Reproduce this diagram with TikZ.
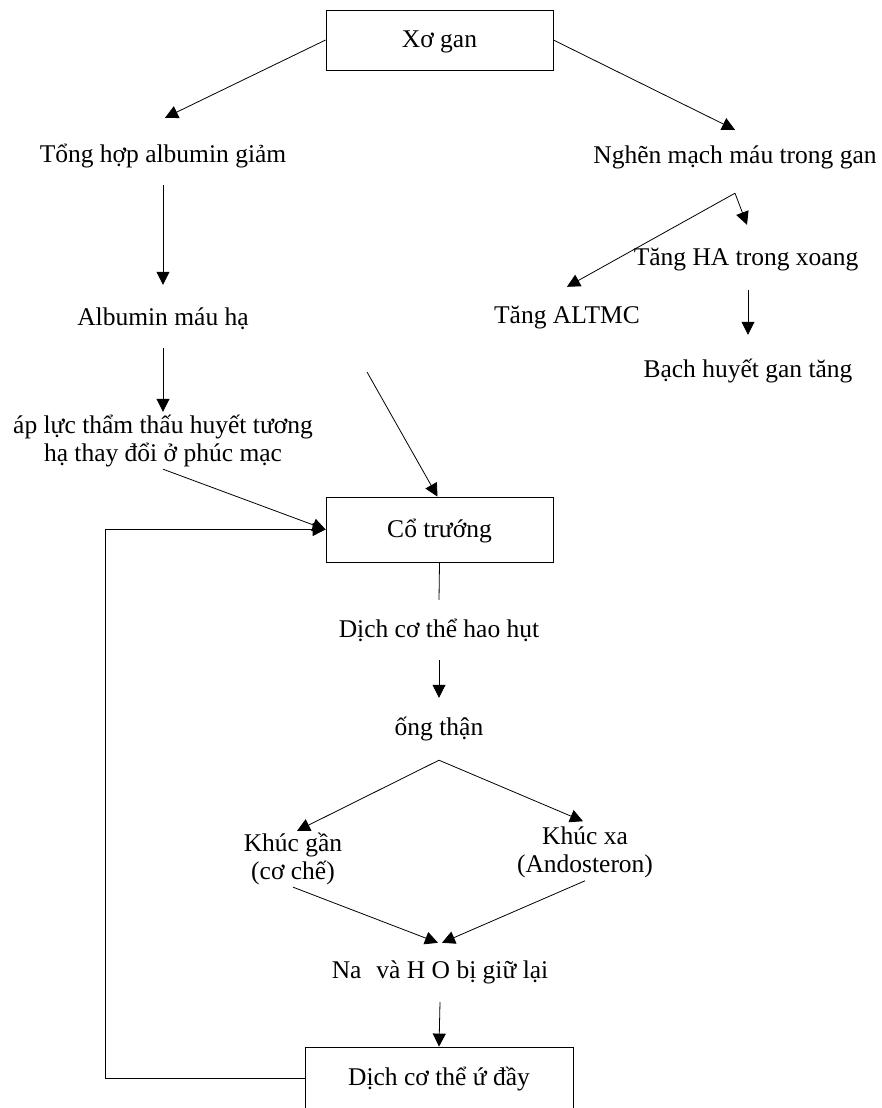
\documentclass[tikz,border=0pt]{standalone}
\usepackage{fontspec}
\setmainfont{Liberation Serif}
\usetikzlibrary{arrows.meta,calc}
\begin{document}
\begin{tikzpicture}[x=1pt,y=-1pt,
  every node/.style={font=\fontsize{25.5}{28}\selectfont},
  lbl/.style={inner sep=0pt, text height=18pt, text depth=6pt, anchor=base},
  lbltwo/.style={inner sep=0pt, align=center, anchor=center},
  box/.style={draw, line width=0.8pt, inner sep=0pt, text height=19pt, text depth=4pt},
  conn/.style={line width=0.8pt},
  arr/.style={conn, -{Triangle[length=13pt,width=13pt]}}]
\clip (0,0) rectangle (882,1108);
\fill[white] (0,0) rectangle (882,1108);

% boxes
\node[box, minimum width=227pt, minimum height=60pt] (xogan) at (439.5,40) {Xơ gan};
\node[box, minimum width=227pt, minimum height=65pt] (cotruong) at (439.5,529.5) {Cổ trướng};
\node[box, minimum width=268pt, minimum height=62pt] (dichday) at (439,1078) {Dịch cơ thể ứ đầy};

% left branch
\node[lbl] (tonghop) at (163,162) {Tổng hợp albumin giảm};
\node[lbl] (albumin) at (163,325) {Albumin máu hạ};
\node[lbltwo] (aplue) at (163,441) {áp lực thẩm thấu huyết tương\\hạ thay đổi ở phúc mạc};

% right branch
\node[lbl] (nghen) at (735,163) {Nghẽn mạch máu trong gan};
\node[lbl] (tangha) at (746,265) {Tăng HA trong xoang};
\node[lbl] (altmc) at (567,323) {Tăng ALTMC};
\node[lbl] (bachhuyet) at (748,377) {Bạch huyết gan tăng};

% kidney chain
\node[lbl] (dichhao) at (439,637) {Dịch cơ thể hao hụt};
\node[lbl] (ongthan) at (439,735) {ống thận};
\node[lbltwo] (khucgan) at (293,859) {Khúc gần\\(cơ chế)};
\node[lbltwo] (khucxa) at (585,852) {Khúc xa\\(Andosteron)};
\node[lbl] (na) at (440,978) {Na\hspace{15pt}và H O bị giữ lại};

% connectors
\draw[arr] (xogan.west) -- ([xshift=2pt,yshift=26pt]tonghop.north);
\draw[arr] (xogan.east) -- ([yshift=15pt]nghen.north);
\coordinate (s1) at ([yshift=-24pt]nghen.south);
\draw[arr] (s1) -- ([yshift=18pt]altmc.north);
\draw[arr] (s1) -- ([xshift=1pt,yshift=22pt]tangha.north);
\draw[arr] ([xshift=2pt,yshift=-19pt]tangha.south) -- ([yshift=24pt]bachhuyet.north);

\draw[arr] ([yshift=-17pt]tonghop.south) -- ([yshift=22pt]albumin.north);
\draw[arr] ([yshift=-17pt]albumin.south) -- ([yshift=3pt]aplue.north);
\draw[arr] ([yshift=-2pt]aplue.south) -- (cotruong.west);
\coordinate (free) at (367,372);
\draw[arr] (free) -- ([xshift=-2pt]cotruong.north);

\draw[conn] (cotruong.south) -- ([yshift=19pt]dichhao.north);
\draw[arr] ([yshift=-17pt]dichhao.south) -- ([yshift=19pt]ongthan.north);
\coordinate (s2) at ([yshift=-19pt]ongthan.south);
\draw[arr] (s2) -- ([xshift=4pt,yshift=2pt]khucgan.north);
\draw[arr] (s2) -- ([xshift=-2pt,yshift=5pt]khucxa.north);
\draw[arr] ([yshift=-2pt]khucgan.south) -- ([xshift=-2pt,yshift=17pt]na.north);
\draw[arr] ([yshift=-3pt]khucxa.south) -- ([xshift=2pt,yshift=17pt]na.north);
\draw[arr] ([yshift=-18pt]na.south) -- (dichday.north);

% feedback loop
\draw[arr] (dichday.west) -| ([xshift=-220pt]cotruong.west) -- (cotruong.west);
\end{tikzpicture}
\end{document}
